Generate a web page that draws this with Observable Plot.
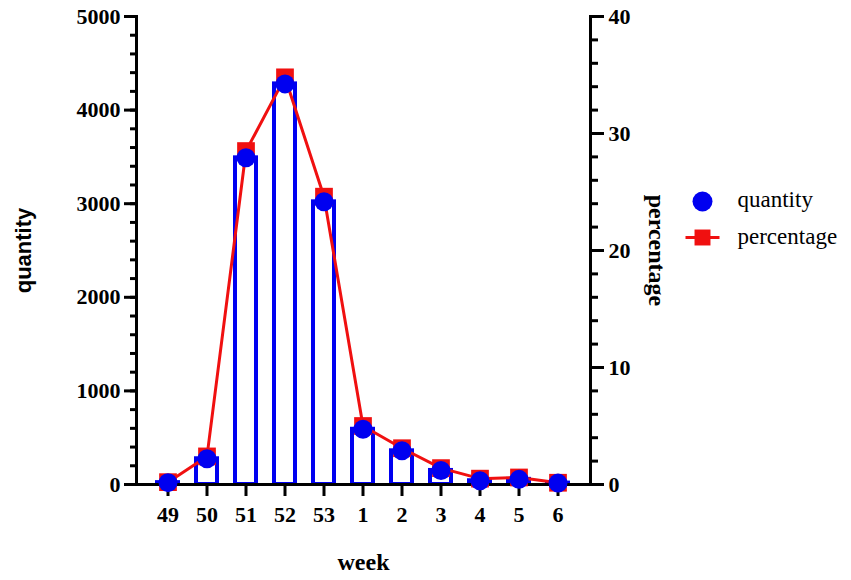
<!DOCTYPE html>
<html>
<head>
<meta charset="utf-8">
<script src="https://cdn.jsdelivr.net/npm/d3@7"></script>
<script src="https://cdn.jsdelivr.net/npm/@observablehq/plot@0.6"></script>
<style>
  html, body { margin: 0; padding: 0; background: #fff; }
  #chart svg { display: block; }
</style>
</head>
<body>
<div id="chart"></div>
<script>
// ---- data ----
const weeks = ["49", "50", "51", "52", "53", "1", "2", "3", "4", "5", "6"];
const quantity = [20, 275, 3490, 4280, 3020, 590, 360, 150, 40, 55, 15];
const percentage = [0.2, 2.4, 28.5, 34.8, 24.6, 5.0, 3.1, 1.4, 0.5, 0.6, 0.15];
const leftTicks = [0, 1000, 2000, 3000, 4000, 5000];
const leftMinor = d3.range(0, 5001, 200);
const rightTicks = [0, 10, 20, 30, 40];
const rightMinor = d3.range(0, 41, 2);

const qMax = 5000, pMax = 40;
const k = qMax / pMax; // maps percentage onto the quantity scale

const rows = weeks.map((w, i) => ({week: w, quantity: quantity[i], pct: percentage[i]}));

const BLUE = "#0000f0";
const RED = "#f01010";

const legendLine = {
  draw(context) { context.moveTo(-17, 0); context.lineTo(17, 0); }
};

const chart = Plot.plot({
  width: 851,
  height: 580,
  marginLeft: 136,
  marginRight: 261,
  marginTop: 16,
  marginBottom: 96,
  style: {fontFamily: "'Liberation Serif', 'Times New Roman', serif", background: "#fff", color: "#000"},
  x: {type: "band", domain: weeks, paddingInner: 0.45, paddingOuter: 0.4, axis: null},
  y: {domain: [0, qMax], axis: null},
  marks: [
    Plot.barY(rows, {x: "week", y: "quantity", fill: "white", stroke: BLUE, strokeWidth: 4}),
    // axes
    Plot.axisY({ticks: leftMinor, tickSize: 6, strokeWidth: 3, text: null, label: null}),
    Plot.axisY({ticks: leftTicks, tickFormat: d3.format("d"), tickSize: 12, tickPadding: 4, strokeWidth: 3, fontSize: 22, fontWeight: "bold", label: null}),
    Plot.axisY({anchor: "right", ticks: rightMinor.map(d => d * k), tickSize: 7, strokeWidth: 3, text: null, label: null}),
    Plot.axisY({anchor: "right", ticks: rightTicks.map(d => d * k), tickFormat: d => d3.format("d")(d / k), tickSize: 13, tickPadding: 5, strokeWidth: 3, fontSize: 22, fontWeight: "bold", label: null}),
    Plot.axisX({tickSize: 12, tickPadding: 10, strokeWidth: 3, fontSize: 22, fontWeight: "bold", label: null}),
    Plot.frame({anchor: "left", strokeWidth: 3}),
    Plot.frame({anchor: "right", strokeWidth: 3}),
    Plot.ruleY([0], {strokeWidth: 3}),
    // series
    Plot.line(rows, {x: "week", y: d => d.pct * k, stroke: RED, strokeWidth: 3}),
    Plot.dot(rows, {x: "week", y: d => d.pct * k, symbol: "square", r: 10, fill: RED}),
    Plot.dot(rows, {x: "week", y: "quantity", r: 9.5, fill: BLUE}),
    // axis titles
    Plot.text(["quantity"], {frameAnchor: "left", dx: -113, rotate: -90, fontSize: 22, fontWeight: "bold", fontFamily: "'Liberation Sans', Arial, sans-serif", textAnchor: "middle", lineAnchor: "middle"}),
    Plot.text(["percentage"], {frameAnchor: "right", dx: 66, rotate: 90, fontSize: 24, fontWeight: "bold", textAnchor: "middle", lineAnchor: "middle"}),
    Plot.text(["week"], {frameAnchor: "bottom", dy: 78, fontSize: 24, fontWeight: "bold", textAnchor: "middle", lineAnchor: "middle"}),
    // legend
    Plot.dot([0], {frameAnchor: "top-right", dx: 112, dy: 185, r: 10, fill: BLUE}),
    Plot.text(["quantity"], {frameAnchor: "top-right", dx: 147, dy: 183, fontSize: 23, textAnchor: "start", lineAnchor: "middle"}),
    Plot.dot([0], {frameAnchor: "top-right", dx: 112, dy: 221, symbol: legendLine, r: 5, fill: "none", stroke: RED, strokeWidth: 3}),
    Plot.dot([0], {frameAnchor: "top-right", dx: 112, dy: 221, symbol: "square", r: 9, fill: RED}),
    Plot.text(["percentage"], {frameAnchor: "top-right", dx: 147, dy: 220, fontSize: 23, textAnchor: "start", lineAnchor: "middle"})
  ]
});

document.getElementById("chart").appendChild(chart);
</script>
</body>
</html>
